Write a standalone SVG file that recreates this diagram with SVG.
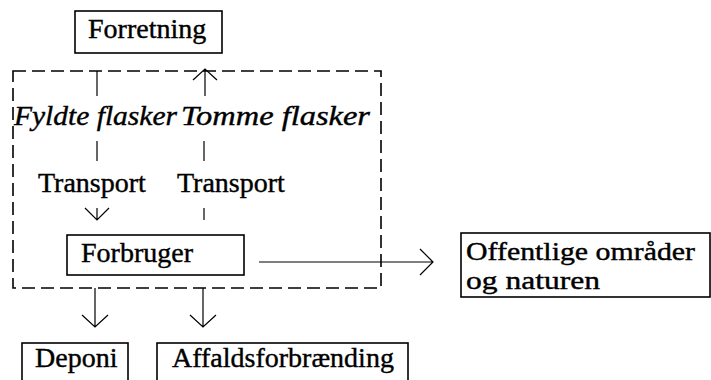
<svg xmlns="http://www.w3.org/2000/svg" width="711" height="380" viewBox="0 0 711 380">
<style>
.box{fill:none;stroke:#000;stroke-width:1.6}
.t{font-family:"Liberation Serif","Times New Roman",serif;font-size:28px;fill:#000;stroke:#000;stroke-width:0.4}
.s{font-size:26px}
.i{font-style:italic}
.c{fill:none;stroke:#000;stroke-width:1.2}
.d{fill:none;stroke:#000;stroke-width:1.6;stroke-dasharray:13 6}
</style>
<rect width="711" height="380" fill="#fff"/>
<g id="system">
<rect class="d" x="13" y="71" width="368" height="217"/>
</g>
<g id="forretning">
<rect class="box" x="75" y="11" width="147" height="42"/>
<text class="t" x="88" y="38">Forretning</text>
</g>
<g id="labels">
<text class="t i" x="14" y="125" textLength="163" lengthAdjust="spacingAndGlyphs">Fyldte flasker</text>
<text class="t i" x="181" y="125" textLength="189" lengthAdjust="spacingAndGlyphs">Tomme flasker</text>
<text class="t" x="38" y="192">Transport</text>
<text class="t" x="177" y="192">Transport</text>
</g>
<g id="forbruger">
<rect class="box" x="67" y="235" width="177" height="40"/>
<text class="t" x="81" y="262">Forbruger</text>
</g>
<g id="offentlige">
<rect class="box" x="461" y="233" width="249" height="64"/>
<text class="t s" x="466" y="260" textLength="229" lengthAdjust="spacingAndGlyphs">Offentlige områder</text>
<text class="t s" x="466" y="289" textLength="134" lengthAdjust="spacingAndGlyphs">og naturen</text>
</g>
<g id="deponi">
<rect class="box" x="22" y="343" width="106" height="45"/>
<text class="t" x="35" y="367">Deponi</text>
</g>
<g id="affald">
<rect class="box" x="157" y="343" width="251" height="45"/>
<text class="t" x="172" y="367">Affaldsforbrænding</text>
</g>
<g id="connectors">
<path class="c" d="M97 71V96"/>
<path class="c" d="M205 69V96M193 80L205 69L217 80"/>
<path class="c" d="M97 141V161M204 141V161"/>
<path class="c" d="M97 208V220M85 208L97 220L109 208"/>
<path class="c" d="M204 208V220"/>
<path class="c" d="M259 262H433M420 249L433 262L420 275"/>
<path class="c" d="M95 288V327M82 315L95 327L108 315"/>
<path class="c" d="M203 288V327M190 315L203 327L216 315"/>
</g>
</svg>
